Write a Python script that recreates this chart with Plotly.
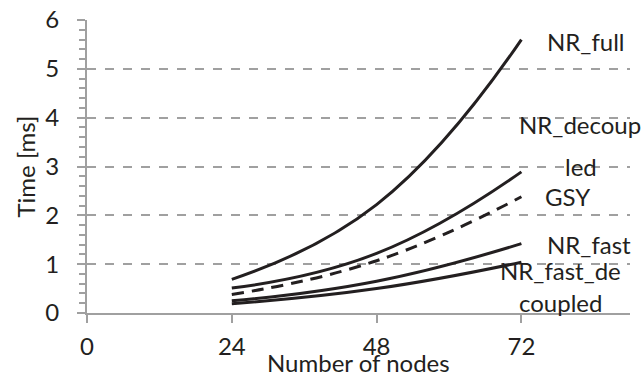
import plotly.graph_objects as go

nodes = [24, 48, 72]
nr_full = [0.69, 2.22, 5.60]
nr_decoupled = [0.51, 1.22, 2.89]
gsy = [0.38, 1.07, 2.38]
nr_fast = [0.25, 0.65, 1.42]
nr_fast_decoupled = [0.19, 0.50, 1.04]

x_ticks = [0, 24, 48, 72]

INK = "#231f20"
GRAY = "#a0a0a0"
FONT = "Lato"
FS = 24

series = [
    ("NR_full", nr_full, "solid"),
    ("NR_decoupled", nr_decoupled, "solid"),
    ("GSY", gsy, "12px,8px"),
    ("NR_fast", nr_fast, "solid"),
    ("NR_fast_decoupled", nr_fast_decoupled, "solid"),
]

fig = go.Figure()
for name, vals, dash in series:
    fig.add_trace(go.Scatter(
        x=nodes, y=vals, mode="lines", name=name,
        line=dict(color=INK, width=3, dash=dash, shape="spline", smoothing=1.3),
        showlegend=False,
    ))

# data labels (wrapped as in the original), anchored to the last point of each series
labels = [
    ("NR_full", nr_full, "left", 24, -2),
    ("NR_decoup", nr_decoupled, "center", 59, 47),
    ("led", nr_decoupled, "center", 60, 5),
    ("GSY", gsy, "left", 22, 0),
    ("NR_fast", nr_fast, "left", 24, -1),
    ("NR_fast_de", nr_fast_decoupled, "center", 39, -8),
    ("coupled", nr_fast_decoupled, "center", 39, -40),
]
for text, vals, anchor, xs, ys in labels:
    fig.add_annotation(x=nodes[-1], y=vals[-1], xref="x", yref="y", text=text,
                       showarrow=False, xanchor=anchor, yanchor="middle",
                       xshift=xs, yshift=ys,
                       font=dict(family=FONT, size=FS, color=INK))

# axis titles
fig.add_annotation(x=0.5, y=0, xref="paper", yref="paper", text="Number of nodes",
                   showarrow=False, xanchor="center", yanchor="middle", yshift=-49,
                   font=dict(family=FONT, size=FS, color=INK))
fig.add_annotation(x=0, y=0.5, xref="paper", yref="paper", text="Time [ms]",
                   showarrow=False, xanchor="center", yanchor="middle", xshift=-62,
                   textangle=-90, font=dict(family=FONT, size=FS, color=INK))

fig.update_xaxes(range=[0, 90], tickvals=x_ticks, ticktext=[str(v) for v in x_ticks],
                 showgrid=False, zeroline=False, showline=True, linecolor=GRAY, linewidth=2,
                 ticks="outside", ticklen=8, tickwidth=2, tickcolor=GRAY,
                 ticklabelstandoff=3, automargin=False,
                 tickfont=dict(family=FONT, size=FS, color=INK))
fig.update_yaxes(range=[0, 6], dtick=1, showgrid=True, gridcolor=GRAY, gridwidth=1.5,
                 griddash="dash", zeroline=False, showline=True, linecolor=GRAY, linewidth=2,
                 ticks="outside", ticklen=8, tickwidth=2, tickcolor=GRAY,
                 minor=dict(dtick=0.2, ticks="outside", ticklen=6, tickwidth=1.5,
                            tickcolor=GRAY, showgrid=False),
                 ticklabelstandoff=13, automargin=False,
                 tickfont=dict(family=FONT, size=FS, color=INK))

fig.update_layout(width=643, height=376, margin=dict(l=87, r=13, t=20, b=63),
                  plot_bgcolor="white", paper_bgcolor="white",
                  font=dict(family=FONT, size=FS, color=INK))

fig.write_html("out.html")
